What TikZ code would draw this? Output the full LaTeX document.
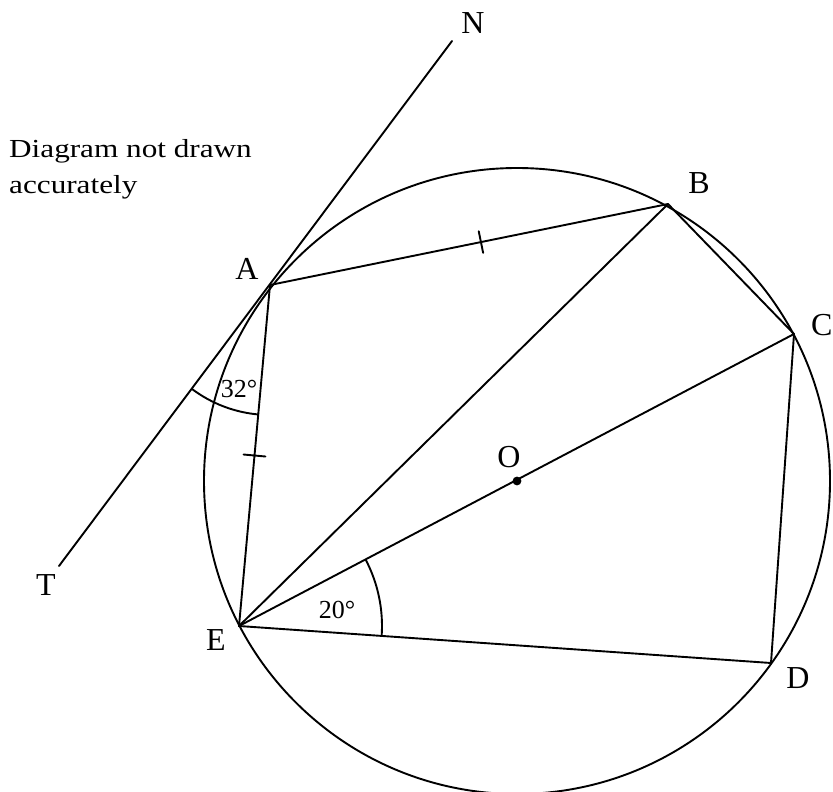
\documentclass[tikz,border=0pt]{standalone}
\usepackage{fontspec}
\setmainfont{Liberation Serif}
\newfontfamily\notefont[FakeStretch=1.2]{Liberation Serif}
\usetikzlibrary{calc}
\tikzset{
  geo/.style={line width=1.9pt, line cap=round, line join=round},
  lbl/.style={inner sep=0pt, font=\fontsize{32}{38}\selectfont},
  ang/.style={inner sep=0pt, font=\fontsize{26}{31}\selectfont},
  note/.style={inner sep=0pt, font=\notefont\fontsize{26}{31}\selectfont},
}
\begin{document}
\begin{tikzpicture}[x=1pt,y=1pt]
\useasboundingbox (0,0) rectangle (833,-792);
\coordinate (O) at (517,-481);
\coordinate (A) at (270,-285);
\coordinate (B) at (668,-204);
\coordinate (C) at (794,-334);
\coordinate (D) at (771,-663);
\coordinate (E) at (239,-626);
\coordinate (N) at (452,-41);
\coordinate (T) at (59,-566);
% circle
\draw[geo] (O) circle (313);
% tangent
\draw[geo] (T) -- (N);
% polygon and chords
\draw[geo] (A) -- (B) -- (C) -- (D) -- (E) -- cycle;
\draw[geo] (E) -- (B);
\draw[geo] (E) -- (C);
\fill (O) circle (4.4);
% equal-length ticks
\draw[geo] ($(A)!0.53!(B)!11pt!90:(B)$) -- ($(A)!0.53!(B)!11pt!-90:(B)$);
\draw[geo] ($(A)!0.5!(E)!11pt!90:(E)$) -- ($(A)!0.5!(E)!11pt!-90:(E)$);
% angle arcs
\draw[geo] ($(A)+(233.1:130)$) arc[start angle=233.1, end angle=264.8, radius=130];
\draw[geo] ($(E)+(-3.98:143)$) arc[start angle=-3.98, end angle=27.55, radius=143];
% labels
\node[lbl] (lA) at (247,-269) {A};
\node[lbl] (lB) at (699,-183) {B};
\node[lbl, anchor=west] (lC) at (811,-325) {C};
\node[lbl] (lD) at (798,-678) {D};
\node[lbl] (lE) at (216,-640) {E};
\node[lbl] (lN) at (473,-23) {N};
\node[lbl] (lT) at (46,-585) {T};
\node[lbl] (lO) at (509,-457) {O};
\node[ang] (a32) at (239,-389) {32°};
\node[ang] (a20) at (337,-610) {20°};
\node[note, anchor=base west] (note1) at (9,-157) {Diagram not drawn};
\node[note, anchor=base west] (note2) at (9,-193) {accurately};
\end{tikzpicture}
\end{document}
